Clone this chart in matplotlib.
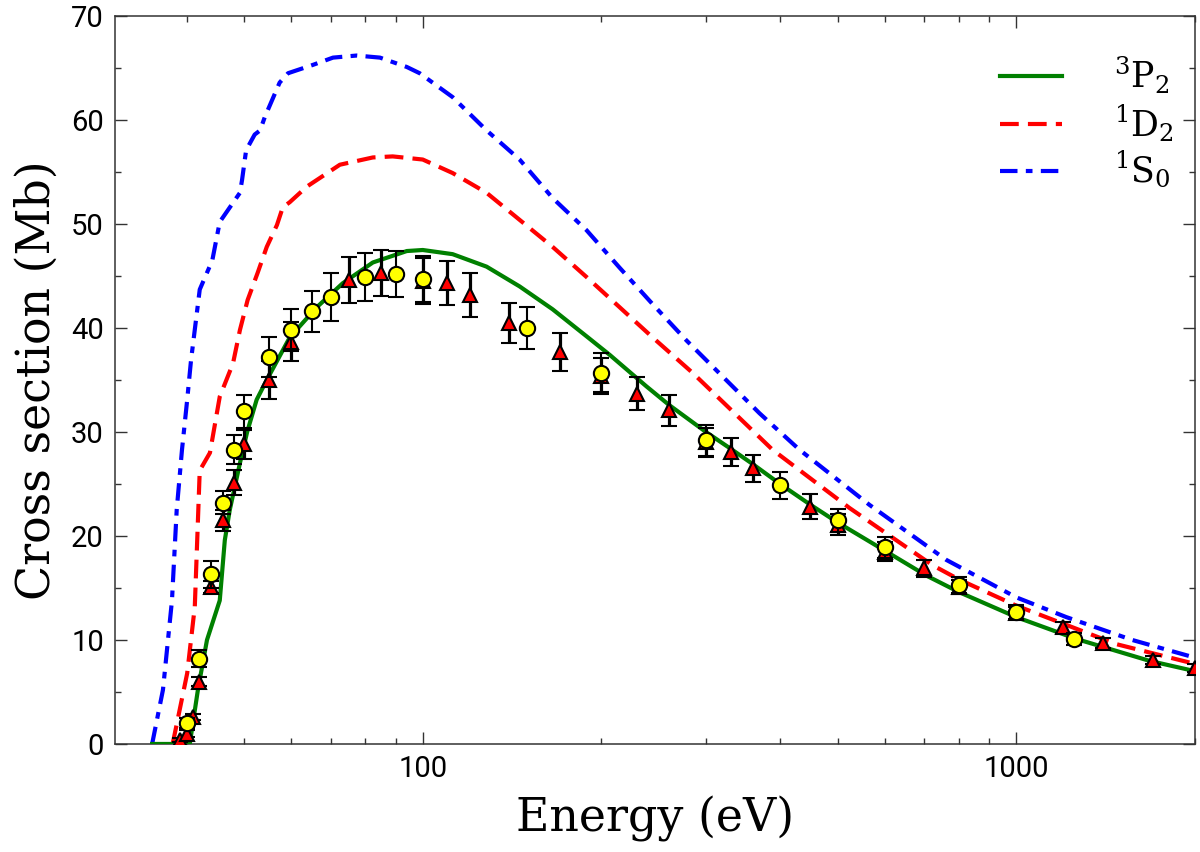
import numpy as np
import matplotlib.pyplot as plt
from matplotlib.ticker import FixedLocator, NullFormatter, MultipleLocator

# theory curves (energy in eV, cross section in Mb)
p2_energy = [35.0, 40.5, 41.8, 43.3, 45.5, 46.4, 47.3, 49.2, 50.6, 52.5, 54.6, 59.7,
             66.3, 73.3, 82.4, 94.0, 100.0, 112.3, 128.1, 145.6, 165.5, 188.8, 206.7,
             238.0, 260.0, 300.0, 330.0, 360.0, 400.0, 450.0, 500.0, 600.0, 705.0,
             801.0, 1000.0, 1262.0, 1675.0, 2000.0]
p2_sigma = [0.0, 0.0, 5.2, 10.0, 13.8, 19.6, 22.5, 27.0, 30.0, 33.1, 35.0, 39.1,
            42.0, 44.3, 46.3, 47.4, 47.5, 47.1, 45.9, 44.0, 41.8, 39.2, 37.4,
            34.4, 32.6, 30.0, 28.4, 26.9, 25.0, 23.0, 21.3, 18.6, 16.2,
            14.6, 12.2, 10.1, 8.0, 7.0]

d2_energy = [37.9, 40.1, 41.3, 42.1, 43.8, 45.5, 47.9, 49.2, 50.7, 52.7, 54.6, 56.8,
             58.1, 59.7, 63.8, 72.5, 82.4, 89.0, 100.0, 112.3, 128.1, 145.6, 165.5,
             188.8, 214.6, 243.9, 284.7, 388.3, 523.4, 722.1, 801.7, 1000.0, 1474.0,
             2000.0]
d2_sigma = [0.0, 6.8, 13.2, 26.3, 28.0, 33.4, 36.6, 39.8, 42.7, 45.3, 47.8, 49.9,
            51.6, 52.1, 53.6, 55.7, 56.4, 56.5, 56.2, 54.9, 53.0, 50.4, 47.8,
            44.9, 42.0, 39.1, 35.7, 28.3, 22.7, 17.2, 15.8, 13.3, 9.6,
            7.7]

s0_energy = [35.0, 36.5, 37.8, 38.5, 39.3, 40.1, 40.7, 42.1, 44.2, 45.5, 49.2, 49.6,
             50.4, 52.1, 53.2, 54.2, 57.4, 59.3, 65.3, 70.6, 77.4, 84.7, 94.0, 98.8,
             112.3, 128.1, 145.6, 165.5, 188.8, 214.6, 243.9, 278.2, 369.3, 431.1,
             565.5, 762.3, 1000.0, 1214.0, 1568.0, 2000.0]
s0_sigma = [0.0, 5.2, 13.8, 22.5, 28.3, 33.1, 36.9, 43.7, 46.5, 50.2, 53.0, 54.2,
            57.1, 58.6, 59.0, 60.3, 63.6, 64.5, 65.3, 66.0, 66.2, 66.0, 65.1, 64.5,
            62.2, 59.0, 56.2, 52.5, 49.4, 45.8, 42.3, 38.8, 31.8, 28.3,
            23.0, 17.7, 14.1, 12.2, 10.0, 8.3]

# measurements
tri_energy = [39, 40, 41, 42, 44, 46, 48, 50, 55, 60, 75, 85, 100, 110, 120, 140, 170,
              200, 230, 260, 300, 330, 360, 450, 500, 600, 700, 800, 1000, 1200, 1400,
              1700, 2000]
tri_sigma = [0.4, 1.0, 2.6, 6.0, 15.1, 21.5, 25.1, 28.8, 35.0, 38.7, 44.6, 45.3, 44.5,
             44.3, 43.2, 40.5, 37.7, 35.4, 33.7, 32.1, 29.0, 28.1, 26.5, 22.8, 21.1,
             18.5, 16.9, 15.1, 12.6, 11.2, 9.7, 8.1, 7.3]
tri_err = [0.2, 0.3, 0.3, 0.4, 0.6, 1.0, 1.2, 1.4, 1.8, 1.9, 2.2, 2.2, 2.2, 2.1, 2.1,
           1.9, 1.8, 1.7, 1.6, 1.5, 1.4, 1.35, 1.3, 1.2, 1.0, 0.9, 0.8, 0.7, 0.6, 0.5,
           0.5, 0.4, 0.4]

circ_energy = [40, 42, 44, 46, 48, 50, 55, 60, 65, 70, 80, 90, 100, 150, 200, 300, 400,
               500, 600, 800, 1000, 1250]
circ_sigma = [2.0, 8.2, 16.3, 23.2, 28.3, 32.0, 37.2, 39.8, 41.6, 43.0, 44.9, 45.2, 44.7,
              40.0, 35.7, 29.2, 24.9, 21.5, 18.9, 15.3, 12.7, 10.1]
circ_err = [0.5, 0.8, 1.3, 1.1, 1.4, 1.6, 1.9, 2.0, 2.0, 2.3, 2.3, 2.2, 2.2, 2.0, 1.9,
            1.5, 1.3, 1.1, 1.0, 0.8, 0.7, 0.6]

plt.rcParams['mathtext.fontset'] = 'dejavuserif'

fig = plt.figure(figsize=(12, 8.52), dpi=100)
ax = fig.add_axes([0.0958, 0.1268, 0.9, 0.8544])

ax.plot(p2_energy, p2_sigma, color='green', lw=3, label=r'$^{3}$P$_{2}$', zorder=3)
ax.plot(d2_energy, d2_sigma, color='red', lw=3, dashes=(4.5, 2.2), label=r'$^{1}$D$_{2}$', zorder=2)
ax.plot(s0_energy, s0_sigma, color='blue', lw=3, dashes=(4.2, 2.0, 1.6, 2.0),
        label=r'$^{1}$S$_{0}$', zorder=2)

ax.errorbar(tri_energy, tri_sigma, yerr=tri_err, fmt='^', ms=10, mfc='red', mec='black',
            mew=1.5, ecolor='black', elinewidth=2.3, capsize=5.5, capthick=2.3, zorder=4)
ax.errorbar(circ_energy, circ_sigma, yerr=circ_err, fmt='o', ms=11, mfc='yellow', mec='black',
            mew=1.5, ecolor='black', elinewidth=1.5, capsize=5.5, capthick=1.5, zorder=5)

ax.set_xscale('log')
ax.set_xlim(30.3, 2000)
ax.set_ylim(0, 70)

ax.xaxis.set_major_locator(FixedLocator([100, 1000]))
ax.xaxis.set_minor_locator(FixedLocator([30, 40, 50, 60, 70, 80, 90,
                                         200, 300, 400, 500, 600, 700, 800, 900, 2000]))
ax.xaxis.set_minor_formatter(NullFormatter())
ax.set_xticklabels(['100', '1000'])
ax.yaxis.set_major_locator(MultipleLocator(10))
ax.yaxis.set_minor_locator(MultipleLocator(5))

ax.tick_params(which='both', direction='in', top=True, right=True, width=1.0, color='#333333')
ax.tick_params(which='major', length=8.5, labelsize=21, pad=8)
ax.tick_params(which='minor', length=4.5)
for lab in ax.get_xticklabels() + ax.get_yticklabels():
    lab.set_family('Roboto')

for sp in ax.spines.values():
    sp.set_linewidth(1.1)
    sp.set_color('#333333')

ax.set_xlabel('Energy (eV)', family='DejaVu Serif', fontsize=33, labelpad=9)
ax.set_ylabel('Cross section (Mb)', family='DejaVu Serif', fontsize=33, labelpad=8)

leg = ax.legend(loc='upper right', bbox_to_anchor=(1.0, 0.975), frameon=False,
                handlelength=1.8, handletextpad=1.5, labelspacing=0.16, borderaxespad=0.2,
                prop={'family': 'DejaVu Serif', 'size': 25})

fig.savefig('out.png', dpi=100)
